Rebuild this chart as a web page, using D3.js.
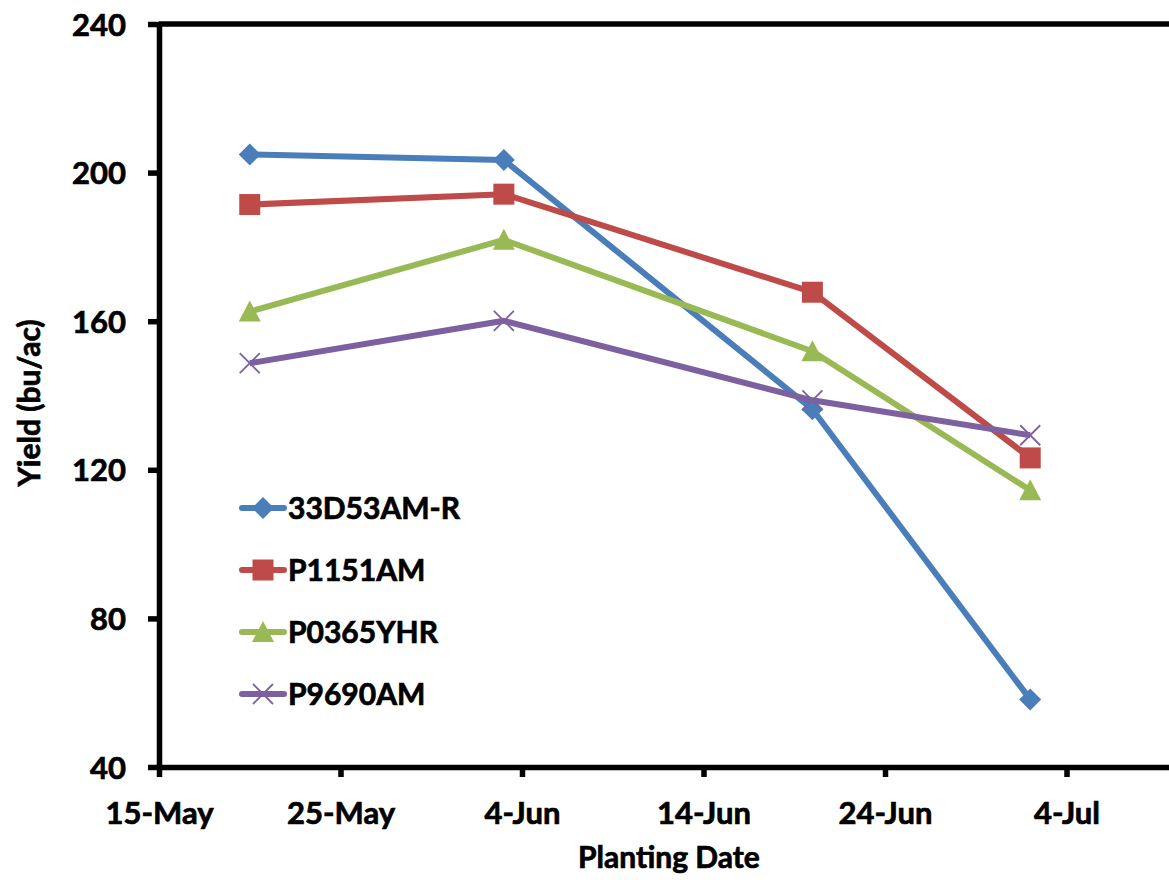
<!DOCTYPE html>
<html>
<head>
<meta charset="utf-8">
<script src="https://cdn.jsdelivr.net/npm/d3@7"></script>
<style>
  body { margin: 0; background: #fff; }
  svg text { font-family: Lato, "Open Sans", sans-serif; font-weight: bold; fill: #000; stroke: #000; stroke-width: 0.7px; }
</style>
</head>
<body>
<div id="chart"></div>
<script>
var width = 1169,
    height = 880;

// data
var plantDates = ["20-May", "3-Jun", "20-Jun", "2-Jul"];
var hybrids = ["33D53AM-R", "P1151AM", "P0365YHR", "P9690AM"];
var yield33D53 = [204.9, 203.4, 136.3, 58.2];
var yieldP1151 = [191.4, 194.2, 167.8, 123.2];
var yieldP0365 = [162.6, 181.9, 151.9, 114.5];
var yieldP9690 = [148.7, 160.1, 138.7, 129.3];
var xTickLabels = ["15-May", "25-May", "4-Jun", "14-Jun", "24-Jun", "4-Jul"];
var xAxisEnd = "14-Jul";   // axis runs past the right edge of the picture
var yTicks = [40, 80, 120, 160, 200, 240];

var colors = ["#4a7ebb", "#be4b48", "#98b954", "#7d60a0"];
var shapes = ["diamond", "square", "triangle", "cross"];

var parse = d3.timeParse("%d-%b-%Y");
function toDate(s) { return parse(s + "-2012"); }

var series = [yield33D53, yieldP1151, yieldP0365, yieldP9690].map(function(vals, i) {
  return {
    name: hybrids[i],
    color: colors[i],
    shape: shapes[i],
    points: vals.map(function(v, j) { return { date: toDate(plantDates[j]), value: v }; })
  };
});

var plotLeft = 159, plotTop = 24, plotBottom = 767;
var tickDates = xTickLabels.map(toDate);

var x = d3.scaleTime()
    .domain([tickDates[0], toDate(xAxisEnd)])
    .range([plotLeft, plotLeft + 6 * 181.5]);

var y = d3.scaleLinear()
    .domain([40, 240])
    .range([plotBottom, plotTop]);

var svg = d3.select("#chart").append("svg")
    .attr("width", width)
    .attr("height", height);

// plot frame (right side runs off the picture)
svg.append("line")
    .attr("x1", plotLeft).attr("x2", x.range()[1])
    .attr("y1", plotTop).attr("y2", plotTop)
    .attr("stroke", "#000").attr("stroke-width", 5.5);
svg.append("line")
    .attr("x1", x.range()[1]).attr("x2", x.range()[1])
    .attr("y1", plotTop).attr("y2", plotBottom)
    .attr("stroke", "#000").attr("stroke-width", 5.5);

// axes
var xAxis = svg.append("g")
    .attr("transform", "translate(0," + plotBottom + ")")
    .call(d3.axisBottom(x).tickValues(tickDates).tickFormat(d3.timeFormat("%-d-%b")).tickSize(10).tickSizeOuter(0).tickPadding(25));
var yAxis = svg.append("g")
    .attr("transform", "translate(" + plotLeft + ",0)")
    .call(d3.axisLeft(y).tickValues(yTicks).tickSize(11).tickSizeOuter(0).tickPadding(22));

[xAxis, yAxis].forEach(function(g) {
  g.select(".domain").attr("stroke", "#000").attr("stroke-width", 5.5);
  g.selectAll(".tick line").attr("stroke", "#000").attr("stroke-width", 5.5);
  g.selectAll(".tick text").style("font-size", "31px").style("font-family", "Lato, sans-serif").style("font-weight", "bold");
});
yAxis.selectAll(".tick text").attr("dy", "0.36em");
xAxis.selectAll(".tick text").attr("dy", "0.71em");

// axis titles
svg.append("text")
    .attr("x", 669).attr("y", 868)
    .attr("text-anchor", "middle")
    .style("font-size", "30px")
    .text("Planting Date");
svg.append("text")
    .attr("transform", "translate(40,403) rotate(-90)")
    .attr("text-anchor", "middle")
    .style("font-size", "30px")
    .text("Yield (bu/ac)");

function marker(sel, shape, color) {
  if (shape == "diamond") {
    sel.append("path").attr("d", "M0,-11L11,0L0,11L-11,0Z").attr("fill", color);
  } else if (shape == "square") {
    sel.append("rect").attr("x", -10.5).attr("y", -10.5).attr("width", 21).attr("height", 21).attr("fill", color);
  } else if (shape == "triangle") {
    sel.append("path").attr("d", "M0,-11L11,10L-11,10Z").attr("fill", color);
  } else {
    sel.append("path").attr("d", "M-10,-10L10,10M-10,10L10,-10")
      .attr("stroke", color).attr("stroke-width", 1.8).attr("fill", "none");
  }
}

var line = d3.line()
    .x(function(d) { return x(d.date); })
    .y(function(d) { return y(d.value); });

series.forEach(function(s) {
  var g = svg.append("g");
  g.append("path")
    .attr("d", line(s.points))
    .attr("fill", "none")
    .attr("stroke", s.color)
    .attr("stroke-width", 6)
    .attr("stroke-linejoin", "round");
  s.points.forEach(function(p) {
    var m = g.append("g").attr("transform", "translate(" + x(p.date) + "," + y(p.value) + ")");
    marker(m, s.shape, s.color);
  });
});

// legend
var legend = svg.append("g").attr("transform", "translate(239,508)");
series.forEach(function(s, i) {
  var row = legend.append("g").attr("transform", "translate(0," + (i * 62) + ")");
  row.append("line")
    .attr("x1", 3).attr("x2", 45)
    .attr("stroke", s.color).attr("stroke-width", 6).attr("stroke-linecap", "round");
  var m = row.append("g").attr("transform", "translate(24,0)");
  marker(m, s.shape, s.color);
  row.append("text")
    .attr("x", 49).attr("y", 11)
    .style("font-size", "30px")
    .text(s.name);
});
</script>
</body>
</html>
